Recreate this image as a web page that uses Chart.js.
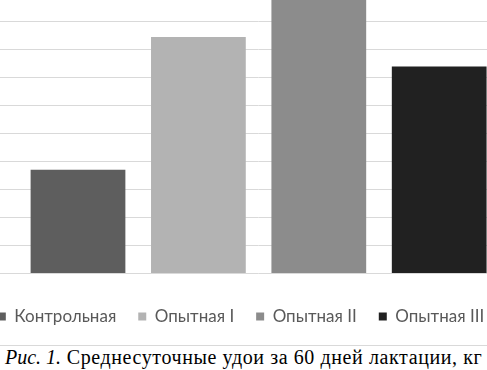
<!DOCTYPE html>
<html>
<head>
<meta charset="utf-8">
<script src="https://cdn.jsdelivr.net/npm/chart.js@4/dist/chart.umd.min.js"></script>
<style>
  html, body { margin: 0; padding: 0; background: #fff; }
  body { width: 487px; height: 370px; overflow: hidden; position: relative; }
  #frame { position: absolute; left: 0; top: 0; width: 487px; height: 345px; overflow: hidden; border-bottom: 1px solid #d9d9d9; }
  #box { position: absolute; left: -59px; top: -34px; width: 600px; height: 369px; }
  #caption { position: absolute; left: 5px; top: 348px; font: 20px "Liberation Serif", "Times New Roman", serif; line-height: 19px; color: #000; white-space: nowrap; letter-spacing: 0.6px; }
  #caption i { letter-spacing: 0; }
</style>
</head>
<body>
<div id="frame"><div id="box"><canvas id="chartUdoi"></canvas></div></div>
<div id="caption"><i>Рис. 1.</i> Среднесуточные удои за 60 дней лактации, кг</div>
<script>
// группы и среднесуточный удой, кг
var grupos = ["Контрольная", "Опытная I", "Опытная II", "Опытная III"];
var udoi = [19.85, 22.23, 23.1, 21.7];
var cores = ["#5e5e5e", "#b3b3b3", "#8c8c8c", "#212121"];
var categoria = ["Среднесуточный удой"];

// шкала значений (подписи оси обрезаны на рисунке)
var eixoMin = 18;
var eixoMax = 23.5;
var eixoPasso = 0.5;

plotarGraficoUdoi()

function plotarGraficoUdoi() {
    var ctx = document.getElementById("chartUdoi");

    var datasets = [];
    for (let i = 0; i < grupos.length; i++) {
        datasets.push({
            label: grupos[i],
            data: [udoi[i]],
            backgroundColor: cores[i],
            borderWidth: 0,
            barPercentage: 0.787,
            categoryPercentage: 0.9312,
        });
    }

    var chartOptions = {
        responsive: true,
        maintainAspectRatio: false,
        animation: false,
        layout: { padding: 0 },
        plugins: {
            legend: {
                display: true,
                position: "bottom",
                labels: {
                    boxWidth: 8,
                    boxHeight: 8,
                    padding: 22,
                    color: "#595959",
                    font: { family: "Lato", size: 17 },
                },
            },
            tooltip: { enabled: false },
        },
        scales: {
            x: {
                display: true,
                ticks: { display: false },
                grid: { display: false },
                border: { display: false },
                afterFit: function (s) { s.height = 13; },
            },
            y: {
                min: eixoMin,
                max: eixoMax,
                ticks: { display: false, stepSize: eixoPasso },
                grid: { color: "#d9d9d9", lineWidth: 1, drawTicks: false },
                border: { display: false },
                afterFit: function (s) { s.width = 59; },
            },
            y2: {
                position: "right",
                display: true,
                ticks: { display: false },
                grid: { display: false },
                border: { display: false },
                afterFit: function (s) { s.width = 23.8; },
            },
        },
    };

    new Chart(ctx, {
        type: "bar",
        data: { labels: categoria, datasets: datasets },
        options: chartOptions,
    });
}
</script>
</body>
</html>
